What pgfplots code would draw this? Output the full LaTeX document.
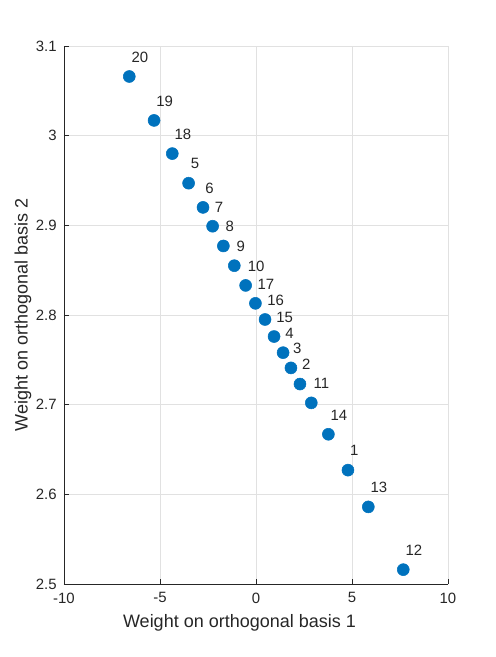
\documentclass[border=0pt]{standalone}
\usepackage{pgfplots}
\pgfplotsset{compat=1.18}
\usepackage{fontspec}
\setmainfont{Liberation Sans}
\definecolor{mblue}{RGB}{0,114,189}
\definecolor{tgray}{RGB}{38,38,38}
\definecolor{ggray}{RGB}{225,225,225}
\begin{document}
\begin{tikzpicture}
\useasboundingbox (-48pt,-54.75pt) rectangle (324pt,438pt);
\begin{axis}[
  at={(0,0)}, anchor=south west,
  scale only axis, width=288pt, height=403.5pt,
  xmin=-10, xmax=10, ymin=2.5, ymax=3.1,
  xtick={-10,-5,0,5,10}, xticklabels={-10,-5,0,5,10},
  ytick={2.5,2.6,2.7,2.8,2.9,3,3.1},
  yticklabels={2.5,2.6,2.7,2.8,2.9,3,3.1},
  axis x line*=bottom, axis y line*=left,
  axis line style={draw=tgray, -, line width=0.6pt},
  tick align=inside, major tick length=3.8pt,
  tick style={draw=tgray, line width=0.6pt},
  grid=major, major grid style={draw=ggray, line width=0.5pt},
  ticklabel style={font=\fontsize{11.2}{13}\selectfont, text=tgray},
  xticklabel style={yshift=-3pt},
  yticklabel style={xshift=-2pt},
  xlabel={Weight on orthogonal basis 1},
  ylabel={Weight on orthogonal basis 2},
  label style={font=\fontsize{13.5}{16}\selectfont, text=tgray},
  xlabel style={at={(axis description cs:0.457,0)}, anchor=north, yshift=-19pt},
  ylabel style={at={(axis description cs:0,0.5)}, anchor=south, yshift=21pt},
  clip=false,
]
\addplot[only marks, mark=*, mark size=4.5pt, color=mblue,
  nodes near coords, point meta=explicit symbolic,
  nodes near coords style={anchor=west, inner sep=0pt, xshift=1.5pt, yshift=14.5pt,
    font=\fontsize{11.2}{13}\selectfont, text=tgray}]
table[meta=label] {
x y label
-6.60 3.066 20
-5.31 3.017 19
-4.36 2.980 18
-3.51 2.947 5
-2.76 2.920 6
-2.26 2.899 7
-1.70 2.877 8
-1.13 2.855 9
-0.54 2.833 10
-0.03 2.813 17
0.47 2.795 16
0.94 2.776 15
1.41 2.758 4
1.82 2.741 3
2.29 2.723 2
2.88 2.702 11
3.77 2.667 14
4.79 2.627 1
5.85 2.586 13
7.67 2.516 12
};
\end{axis}
\end{tikzpicture}
\end{document}
